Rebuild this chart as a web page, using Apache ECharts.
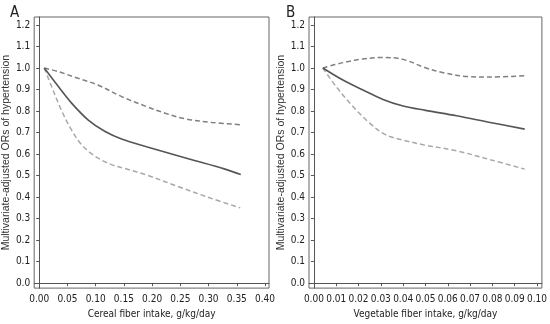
<!DOCTYPE html>
<html><head><meta charset="utf-8">
<script src="https://cdn.jsdelivr.net/npm/echarts@6/dist/echarts.min.js"></script>
<style>html,body{margin:0;padding:0;background:#fff}#c{width:550px;height:324px}</style>
</head><body><div id="c"></div>
<script>
// Panel A: cereal fiber
const aSolidX = [0.009,0.034,0.057,0.087,0.116,0.146,0.190,0.264,0.329,0.357];
const aSolidY = [1.000,0.914,0.838,0.758,0.706,0.670,0.634,0.578,0.530,0.505];
const aUpperX = [0.009,0.034,0.069,0.104,0.146,0.190,0.223,0.258,0.306,0.358];
const aUpperY = [1.000,0.983,0.952,0.921,0.867,0.821,0.790,0.764,0.747,0.736];
const aLowerX = [0.009,0.022,0.039,0.057,0.075,0.099,0.128,0.158,0.188,0.247,0.306,0.356];
const aLowerY = [1.000,0.914,0.806,0.713,0.644,0.590,0.551,0.528,0.505,0.448,0.393,0.350];
// Panel B: vegetable fiber
const bSolidX = [0.004,0.013,0.022,0.031,0.040,0.050,0.064,0.079,0.0945];
const bSolidY = [1.000,0.944,0.898,0.854,0.823,0.803,0.778,0.747,0.716];
const bUpperX = [0.004,0.013,0.022,0.031,0.040,0.050,0.058,0.069,0.079,0.0945];
const bUpperY = [1.000,1.025,1.042,1.049,1.040,1.001,0.978,0.960,0.958,0.964];
const bLowerX = [0.004,0.010,0.0175,0.025,0.032,0.040,0.050,0.064,0.079,0.0945];
const bLowerY = [1.000,0.913,0.821,0.744,0.690,0.665,0.641,0.615,0.574,0.530];
// Ticks
const yTicks = [0,0.1,0.2,0.3,0.4,0.5,0.6,0.7,0.8,0.9,1.0,1.1,1.2];
const aXTicks = [0,0.05,0.10,0.15,0.20,0.25,0.30,0.35,0.40];
const bXTicks = [0,0.01,0.02,0.03,0.04,0.05,0.06,0.07,0.08,0.09,0.10];
const yName = 'Multivariate-adjusted ORs of hypertension';
const aXName = 'Cereal fiber intake, g/kg/day';
const bXName = 'Vegetable fiber intake, g/kg/day';

const zip = (xs, ys) => xs.map((x, i) => [x, ys[i]]);
const narrow = '"Liberation Sans Narrow", "DejaVu Sans Condensed", Arial, sans-serif';
const lab = {fontFamily: narrow, fontSize: 10, color: '#222'};

function xAxis(idx, min, max, ticks, name) {
  return {
    type: 'value', gridIndex: idx, min, max, name, nameLocation: 'middle', nameGap: 20,
    nameTextStyle: {fontFamily: narrow, fontSize: 10, color: '#222'},
    splitLine: {show: false},
    axisLine: {show: true, lineStyle: {color: '#555'}},
    axisTick: {show: true, length: 3, lineStyle: {color: '#555'}, customValues: ticks},
    axisLabel: Object.assign({margin: 6, customValues: ticks, formatter: v => v.toFixed(2)}, lab)
  };
}
function yAxis(idx) {
  return {
    type: 'value', gridIndex: idx, min: -0.023, max: 1.237, name: yName,
    nameLocation: 'middle', nameGap: 22, nameRotate: 90,
    nameTextStyle: {fontFamily: '"Liberation Sans", Arial, sans-serif', fontSize: 10.5, color: '#333'},
    splitLine: {show: false},
    axisLine: {show: true, lineStyle: {color: '#555'}},
    axisTick: {show: true, length: 3, lineStyle: {color: '#555'}, customValues: yTicks},
    axisLabel: Object.assign({margin: 4, customValues: yTicks, formatter: v => v.toFixed(1)}, lab)
  };
}
function line(idx, data, color, type, width) {
  return {type: 'line', xAxisIndex: idx, yAxisIndex: idx, data, smooth: 0.35,
    showSymbol: false, symbol: 'none', lineStyle: {color, type, width}, animation: false, silent: true};
}

const chart = echarts.init(document.getElementById('c'), null, {renderer: 'canvas'});
chart.setOption({
  animation: false,
  title: [
    {text: 'A', left: 5, top: 1, textStyle: {fontFamily: narrow, fontSize: 15, fontWeight: 'normal', color: '#222'}},
    {text: 'B', left: 281, top: 1, textStyle: {fontFamily: narrow, fontSize: 15, fontWeight: 'normal', color: '#222'}}
  ],
  grid: [
    {left: 34, right: 281, top: 17, bottom: 35, show: true, borderColor: '#666', borderWidth: 1, backgroundColor: 'transparent'},
    {left: 309, right: 6, top: 17, bottom: 35, show: true, borderColor: '#666', borderWidth: 1, backgroundColor: 'transparent'}
  ],
  xAxis: [xAxis(0, -0.0088, 0.407, aXTicks, aXName), xAxis(1, -0.0022, 0.1022, bXTicks, bXName)],
  yAxis: [yAxis(0), yAxis(1)],
  series: [
    line(0, zip(aUpperX, aUpperY), '#808080', [5, 3], 1.5),
    line(0, zip(aLowerX, aLowerY), '#a8a8a8', [5, 3], 1.5),
    line(0, zip(aSolidX, aSolidY), '#555555', 'solid', 1.6),
    line(1, zip(bUpperX, bUpperY), '#808080', [5, 3], 1.5),
    line(1, zip(bLowerX, bLowerY), '#a8a8a8', [5, 3], 1.5),
    line(1, zip(bSolidX, bSolidY), '#555555', 'solid', 1.6)
  ]
});
</script></body></html>
